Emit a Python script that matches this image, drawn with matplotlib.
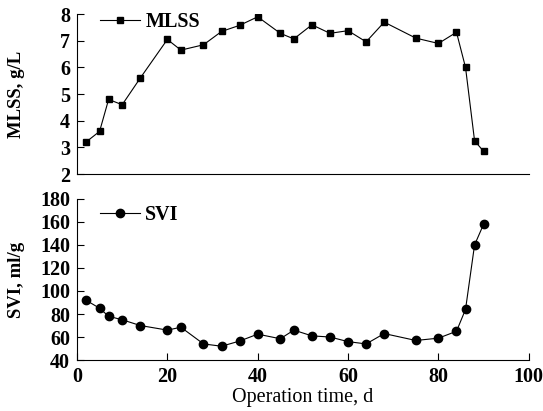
import matplotlib
matplotlib.use("Agg")
import matplotlib.pyplot as plt

# operation time, d
days = [2, 5, 7, 10, 14, 20, 23, 28, 32, 36, 40, 45, 48, 52, 56, 60,
        64, 68, 75, 80, 84, 86, 88, 90]

mlss = [3.2, 3.6, 4.8, 4.6, 5.6, 7.05, 6.65, 6.85, 7.35, 7.58, 7.9, 7.28,
        7.07, 7.6, 7.28, 7.38, 6.96, 7.7, 7.1, 6.9, 7.32, 6.0, 3.25, 2.85]

svi = [92, 85, 78, 75, 70, 66, 68.5, 54, 52, 56.5, 62.5, 58.5, 66, 61,
       60, 56, 54, 63, 57, 59, 65, 84, 140, 158]

plt.rcParams['font.family'] = ['Liberation Serif', 'DejaVu Serif']

fig = plt.figure(figsize=(5.43, 4.11), dpi=100)
ax1 = fig.add_axes([0.1418, 0.5766, 0.832, 0.389])
ax2 = fig.add_axes([0.1418, 0.124, 0.832, 0.392])

ax1.plot(days, mlss, color='black', lw=0.8, marker='s', ms=5, label='MLSS')
ax1.set_xlim(0, 100)
ax1.set_ylim(2, 8)
ax1.set_yticks(range(2, 9))
ax1.set_xticks([])
ax1.set_ylabel('MLSS, g/L', fontsize=13.5, fontweight='bold')

ax2.plot(days, svi, color='black', lw=0.8, marker='o', ms=6, label='SVI')
ax2.set_xlim(0, 100)
ax2.set_ylim(40, 180)
ax2.set_yticks(range(40, 181, 20))
ax2.set_xticks(range(0, 101, 20))
ax2.set_xlabel('Operation time, d', fontsize=14.5, labelpad=1)
ax2.set_ylabel('SVI, ml/g', fontsize=13.5, fontweight='bold')

legend_y = {ax1: 0.95, ax2: 0.90}
for ax in (ax1, ax2):
    ax.spines['top'].set_visible(False)
    ax.spines['right'].set_visible(False)
    ax.tick_params(direction='in', length=5, width=0.8, labelsize=14.5, pad=5)
    for lab in ax.get_xticklabels() + ax.get_yticklabels():
        lab.set_fontweight('bold')
    ax.yaxis.set_label_coords(-0.115, 0.5)
    leg = ax.legend(loc='center left', frameon=False, handlelength=2.0,
                    handletextpad=0.25, fontsize=14.5,
                    bbox_to_anchor=(0.011, legend_y[ax]))
    for t in leg.get_texts():
        t.set_fontweight('bold')

fig.savefig('out.png', dpi=100)
